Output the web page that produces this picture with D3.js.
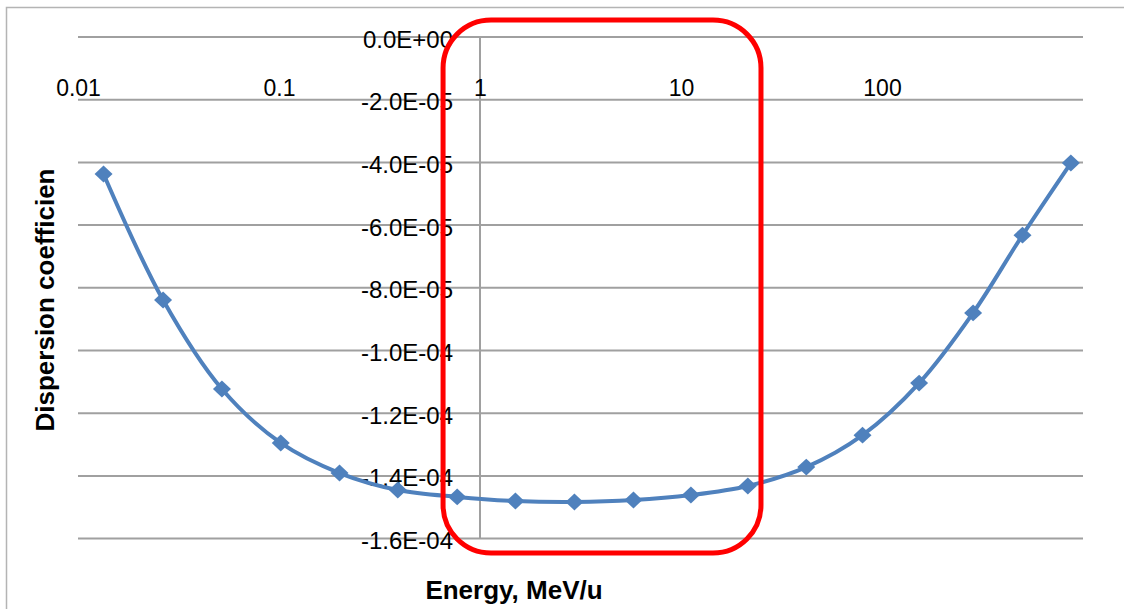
<!DOCTYPE html>
<html>
<head>
<meta charset="utf-8">
<script src="https://cdn.jsdelivr.net/npm/d3@7"></script>
<style>
  html, body { margin: 0; padding: 0; background: #fff; }
  svg { display: block; }
  text { font-family: "Liberation Sans", Arial, sans-serif; fill: #000; }
</style>
</head>
<body>
<svg id="chart" width="1124" height="609"></svg>
<script>
// energy (MeV/u) and dispersion coefficient
var energies = [0.0134, 0.0265, 0.052, 0.102, 0.2, 0.39, 0.77, 1.5, 2.95, 5.8, 11.2, 21.5, 42, 80, 153, 284, 500, 870];
var dispersion = [-4.37e-5, -8.39e-5, -1.123e-4, -1.295e-4, -1.391e-4, -1.445e-4, -1.467e-4, -1.480e-4, -1.483e-4,
                  -1.477e-4, -1.461e-4, -1.432e-4, -1.372e-4, -1.270e-4, -1.104e-4, -8.80e-5, -6.32e-5, -4.02e-5];

var xTicks = [0.01, 0.1, 1, 10, 100];
var xTickLabels = ["0.01", "0.1", "1", "10", "100"];
var yTicks = [0, -2e-5, -4e-5, -6e-5, -8e-5, -1e-4, -1.2e-4, -1.4e-4, -1.6e-4];
var yTickLabels = ["0.0E+00", "-2.0E-05", "-4.0E-05", "-6.0E-05", "-8.0E-05", "-1.0E-04", "-1.2E-04", "-1.4E-04", "-1.6E-04"];

// highlighted region (red box), in data units
var boxEnergy = [0.655, 25];
var boxDisp = [-1.646e-4, 0.54e-5];

var svg = d3.select("#chart");
var plot = {left: 78, right: 1083, top: 37, bottom: 538.6};

var x = d3.scaleLog().domain([0.01, 1000]).range([plot.left, plot.right]);
var y = d3.scaleLinear().domain([-1.6e-4, 0]).range([plot.bottom, plot.top]);

// chart frame (cut off on the right and bottom like the screenshot)
svg.append("rect")
    .attr("x", 6.5).attr("y", 7.5)
    .attr("width", 1140).attr("height", 640)
    .attr("fill", "none")
    .attr("stroke", "#b4b4b4")
    .attr("stroke-width", 1.5);

// horizontal gridlines
svg.append("g")
  .selectAll("line")
  .data(yTicks)
  .join("line")
    .attr("x1", plot.left).attr("x2", plot.right)
    .attr("y1", d => y(d)).attr("y2", d => y(d))
    .attr("stroke", "#a0a0a0")
    .attr("stroke-width", 2);

// vertical axis crosses at 1 MeV/u
svg.append("line")
    .attr("x1", x(1)).attr("x2", x(1))
    .attr("y1", y(0)).attr("y2", y(-1.6e-4))
    .attr("stroke", "#a0a0a0")
    .attr("stroke-width", 2);

// x axis labels (axis sits at y = 0)
var xAxis = svg.append("g")
    .attr("transform", "translate(0," + y(0) + ")")
    .call(d3.axisBottom(x).tickValues(xTicks).tickSize(0).tickPadding(43)
      .tickFormat((d, i) => xTickLabels[i]));
xAxis.select(".domain").remove();
xAxis.selectAll("text")
    .style("font-family", "'Liberation Sans', Arial, sans-serif")
    .style("font-size", "23px")
    .attr("fill", "#111");

// y axis labels next to the vertical axis
var yAxis = svg.append("g")
    .attr("transform", "translate(" + x(1) + ",0)")
    .call(d3.axisLeft(y).tickValues(yTicks).tickSize(0).tickPadding(27)
      .tickFormat((d, i) => yTickLabels[i]));
yAxis.select(".domain").remove();
yAxis.selectAll("text")
    .style("font-family", "'Liberation Sans', Arial, sans-serif")
    .style("font-size", "24px")
    .attr("dy", "0.42em")
    .attr("fill", "#111");

var pts = energies.map((e, i) => ({e: e, v: dispersion[i]}));

var line = d3.line()
    .x(d => x(d.e))
    .y(d => y(d.v))
    .curve(d3.curveCatmullRom.alpha(0.5));

svg.append("path")
    .datum(pts)
    .attr("fill", "none")
    .attr("stroke", "#4f81bd")
    .attr("stroke-width", 4)
    .attr("stroke-linejoin", "round")
    .attr("d", line);

var diamond = {
  draw: function(ctx, size) {
    var r = Math.sqrt(size / 2);
    ctx.moveTo(0, -r * 0.94);
    ctx.lineTo(r, 0);
    ctx.lineTo(0, r * 0.94);
    ctx.lineTo(-r, 0);
    ctx.closePath();
  }
};

svg.append("g")
  .selectAll("path")
  .data(pts)
  .join("path")
    .attr("transform", d => "translate(" + x(d.e) + "," + y(d.v) + ")")
    .attr("d", d3.symbol().type(diamond).size(162))
    .attr("fill", "#4f81bd");

// axis titles
svg.append("text")
    .attr("x", 514).attr("y", 599)
    .attr("text-anchor", "middle")
    .style("font-size", "26px")
    .style("font-weight", "bold")
    .text("Energy, MeV/u");

svg.append("text")
    .attr("transform", "translate(54,300) rotate(-90)")
    .attr("text-anchor", "middle")
    .style("font-size", "26px")
    .style("font-weight", "bold")
    .text("Dispersion coefficien");

// red highlight box
var bx0 = x(boxEnergy[0]), bx1 = x(boxEnergy[1]);
var by0 = y(boxDisp[1]), by1 = y(boxDisp[0]);
svg.append("rect")
    .attr("x", bx0).attr("y", by0)
    .attr("width", bx1 - bx0).attr("height", by1 - by0)
    .attr("rx", 48).attr("ry", 48)
    .attr("fill", "none")
    .attr("stroke", "#ff0000")
    .attr("stroke-width", 5);
</script>
</body>
</html>
